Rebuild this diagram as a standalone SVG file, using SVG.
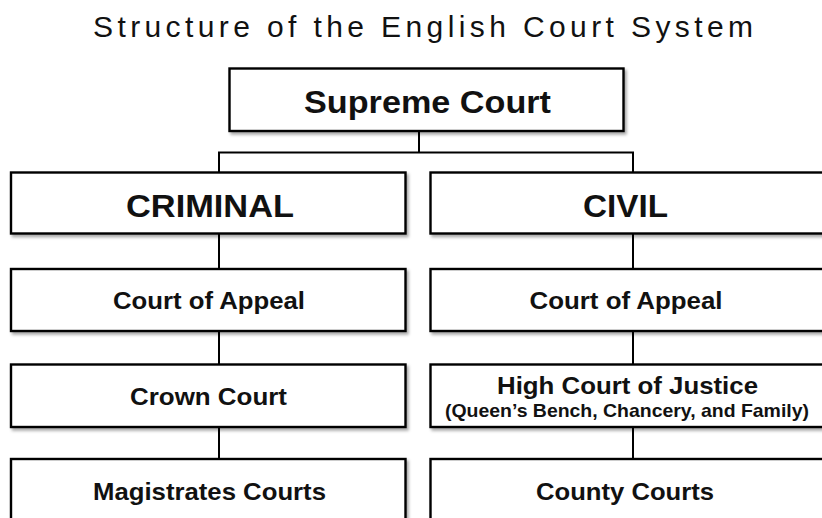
<svg xmlns="http://www.w3.org/2000/svg" width="822" height="518" viewBox="0 0 822 518">
<defs>
<filter id="sh" x="-5%" y="-10%" width="115%" height="130%">
<feDropShadow dx="2" dy="2.5" stdDeviation="1.5" flood-color="#000" flood-opacity="0.35"/>
</filter>
</defs>
<style>
.box{fill:#fff;stroke:#000;stroke-width:2.4;filter:url(#sh)}
.lbl{font-family:"Liberation Sans",Arial,sans-serif;font-weight:bold;fill:#111;text-anchor:middle}
.big{font-size:32px}
.mid{font-size:24.5px}
.sm{font-size:19px}
.title{font-family:"Liberation Sans",Arial,sans-serif;font-size:30px;fill:#111;text-anchor:middle}
.conn{fill:none;stroke:#000;stroke-width:2}
</style>
<rect width="822" height="518" fill="#fff"/>
<text class="title" x="423" y="37" textLength="660" lengthAdjust="spacing">Structure of the English Court System</text>
<g id="connectors">
<path class="conn" d="M419 131V152.5M218 152.5H634M219 152.5V172.5M633 152.5V172.5M219 233.5V269M633 233.5V269M219 331V364.5M633 331V364.5M219 427V459M633 427V459"/>
</g>
<g id="supreme">
<rect class="box" x="229.5" y="68.5" width="394" height="62.5"/>
<text class="lbl big" x="427.5" y="113" textLength="247" lengthAdjust="spacingAndGlyphs">Supreme Court</text>
</g>
<g id="criminal">
<rect class="box" x="11" y="172.5" width="394.5" height="61"/>
<text class="lbl big" x="210" y="216.5" textLength="168" lengthAdjust="spacingAndGlyphs">CRIMINAL</text>
</g>
<g id="civil">
<rect class="box" x="430.5" y="172.5" width="395" height="61"/>
<text class="lbl big" x="625.5" y="216.5" textLength="85" lengthAdjust="spacingAndGlyphs">CIVIL</text>
</g>
<g id="crim-appeal">
<rect class="box" x="11" y="269" width="394.5" height="62"/>
<text class="lbl mid" x="209" y="309" textLength="192" lengthAdjust="spacingAndGlyphs">Court of Appeal</text>
</g>
<g id="civil-appeal">
<rect class="box" x="430.5" y="269" width="395" height="62"/>
<text class="lbl mid" x="626" y="309" textLength="193" lengthAdjust="spacingAndGlyphs">Court of Appeal</text>
</g>
<g id="crown">
<rect class="box" x="11" y="364.5" width="394.5" height="62.5"/>
<text class="lbl mid" x="208.5" y="405" textLength="157" lengthAdjust="spacingAndGlyphs">Crown Court</text>
</g>
<g id="high">
<rect class="box" x="430.5" y="364.5" width="395" height="62.5"/>
<text class="lbl mid" x="627.5" y="393.5" textLength="261" lengthAdjust="spacingAndGlyphs">High Court of Justice</text>
<text class="lbl sm" x="627" y="417" textLength="364" lengthAdjust="spacingAndGlyphs">(Queen’s Bench, Chancery, and Family)</text>
</g>
<g id="magistrates">
<rect class="box" x="11" y="459" width="394.5" height="62"/>
<text class="lbl mid" x="209.5" y="499.5" textLength="233" lengthAdjust="spacingAndGlyphs">Magistrates Courts</text>
</g>
<g id="county">
<rect class="box" x="430.5" y="459" width="395" height="62"/>
<text class="lbl mid" x="625" y="499.5" textLength="178" lengthAdjust="spacingAndGlyphs">County Courts</text>
</g>
</svg>
